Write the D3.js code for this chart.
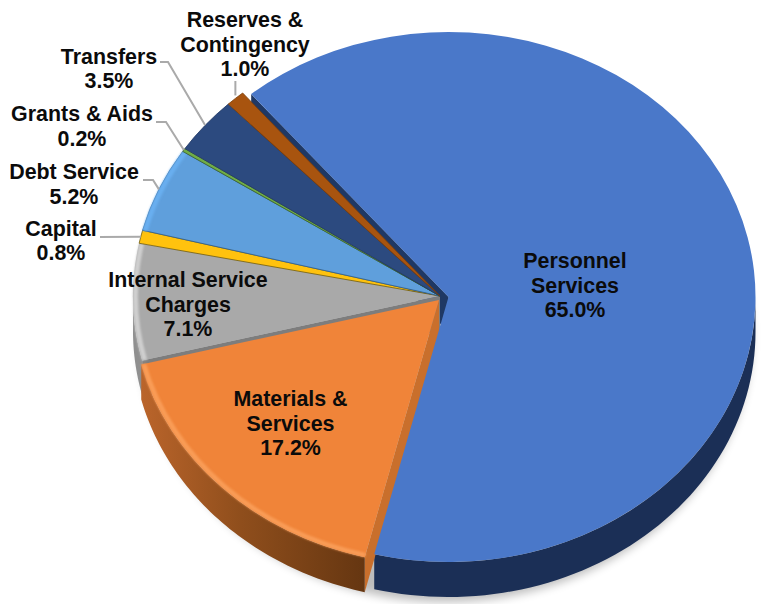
<!DOCTYPE html>
<html>
<head>
<meta charset="utf-8">
<style>
html,body{margin:0;padding:0;background:#fff}
svg{display:block}
text{font-family:"Liberation Sans",Arial,sans-serif;font-weight:700;font-size:21.4px;fill:#0b0b0b;text-anchor:middle}
</style>
</head>
<body>
<svg id="chart" width="767" height="604"></svg>
<script src="https://cdn.jsdelivr.net/npm/d3@7"></script>
<script>
// Budget share by expenditure category, in percent
const categories = ["Personnel Services","Materials & Services","Internal Service Charges","Capital","Debt Service","Grants & Aids","Transfers","Reserves & Contingency"];
const shares = [65.0,17.2,7.1,0.8,5.2,0.2,3.5,1.0];
const labelLines = [["Personnel","Services"],["Materials &","Services"],["Internal Service","Charges"],["Capital"],["Debt Service"],["Grants & Aids"],["Transfers"],["Reserves &","Contingency"]];

// Per-slice paint: top face, cut edge, rim highlight, outer wall
const topColors  = ["#4a78c9","#f08439","#a9a9a9","#ffc20e","#5f9fdc","#70ad47","#2c4a7f","#a8540f"];
const edgeColors = ["#1f3864","#c96f2c","#7d7d7d","#6d5a10","#2f5f8f","#3b5f26","#223a66","#7a3d0a"];
const rimColors  = [null,"#f99c57","#cfcfcf",null,"#69aff0",null,null,null];

// Pie geometry: an ellipse seen from above, with each slice's own pull-out centre
const rx = 307, ry = 265, depth = 35;
const centers = [[448.5,297],[439,300],[440,296],[440,296],[440,296],[440,296],[440,296],[440,296]];

// Label placement: centre x, first baseline, line step; leader elbow when the label sits outside
const labelPlacement = [
  {x:575,y:268,step:24.5},
  {x:290.5,y:406,step:24.5},
  {x:188,y:287,step:24.5},
  {x:61,y:236,step:24,from:100,elbow:100},
  {x:74,y:179,step:25,from:143,elbow:153,ly:180},
  {x:82,y:121,step:25,from:156,elbow:166},
  {x:109,y:64,step:24,from:160,elbow:168,ly:62},
  {x:245,y:27,step:24.5,vertical:true,from:81}
];

const deg = Math.PI/180;
const pie = d3.pie().sort(null).value(d=>d).startAngle(-40*deg).endAngle(320*deg);
const slices = pie(shares);
const face = d3.arc().innerRadius(0).outerRadius(rx);
const rim = d3.arc().innerRadius(rx-5).outerRadius(rx);
const yScale = ry/rx;

const rimPoint = (i,a,dy=0)=>[centers[i][0]+rx*Math.sin(a),centers[i][1]-ry*Math.cos(a)+dy];
const line = d3.line();

// Curved outer wall between two angles
function wallPath(i,a0,a1){
  const steps = d3.range(0,61).map(k=>a0+(a1-a0)*k/60);
  return line(steps.map(a=>rimPoint(i,a)).concat(steps.slice().reverse().map(a=>rimPoint(i,a,depth))))+"Z";
}
// Flat cut face running from the centre out to the rim
function cutPath(i,a){
  const [cx,cy] = centers[i], p = rimPoint(i,a);
  return line([[cx,cy],p,[p[0],p[1]+depth],[cx,cy+depth]])+"Z";
}

const svg = d3.select("#chart");
const defs = svg.append("defs");
defs.append("filter").attr("id","soft").attr("x","-20%").attr("y","-20%").attr("width","140%").attr("height","140%")
  .append("feGaussianBlur").attr("stdDeviation",5);
defs.append("filter").attr("id","rimSoft").append("feGaussianBlur").attr("stdDeviation",1.1);
const orangeWall = defs.append("linearGradient").attr("id","orangeWall").attr("gradientUnits","userSpaceOnUse")
  .attr("x1",139).attr("x2",366).attr("y1",0).attr("y2",0);
orangeWall.append("stop").attr("offset",0).attr("stop-color","#bb652b");
orangeWall.append("stop").attr("offset",0.45).attr("stop-color","#8f4e1c");
orangeWall.append("stop").attr("offset",1).attr("stop-color","#653611");

// Soft ground shadow
svg.append("ellipse")
  .attr("cx",centers[0][0]-3).attr("cy",centers[0][1]+depth+5)
  .attr("rx",rx-1).attr("ry",ry)
  .attr("fill","#000").attr("opacity",0.26).attr("filter","url(#soft)");

// Walls, back to front
const walls = svg.append("g");
walls.append("path").attr("d",cutPath(0,slices[0].startAngle)).attr("fill",edgeColors[0]);
walls.append("path").attr("d",wallPath(0,90*deg,slices[0].endAngle)).attr("fill","#1b2f56");
walls.append("path").attr("d",wallPath(2,slices[2].startAngle,270*deg)).attr("fill","#8f8f8f");
walls.append("path").attr("d",cutPath(2,slices[2].startAngle)).attr("fill",edgeColors[2]);
walls.append("path").attr("d",cutPath(1,slices[1].startAngle)).attr("fill",edgeColors[1]);
walls.append("path").attr("d",wallPath(1,slices[1].startAngle,slices[1].endAngle)).attr("fill","url(#orangeWall)");

// Top faces: blue goes last so it overlaps the neighbouring cut face
const drawOrder = [2,3,4,5,6,7,1,0];
const tops = svg.append("g");
drawOrder.forEach(i=>{
  const g = tops.append("g")
    .attr("transform",`translate(${centers[i][0]},${centers[i][1]}) scale(1,${yScale})`);
  g.append("path").attr("d",face(slices[i])).attr("fill",topColors[i])
    .attr("stroke",i<3?"none":edgeColors[i]).attr("stroke-width",0.8)
    .attr("vector-effect","non-scaling-stroke");
  if(rimColors[i]) g.append("path").attr("d",rim(slices[i])).attr("fill",rimColors[i]).attr("filter","url(#rimSoft)");
});

// Leader lines from outside labels to the rim of their slice
const leaders = svg.append("g").attr("fill","none").attr("stroke","#aaaaaa").attr("stroke-width",2);
labelPlacement.forEach((p,i)=>{
  if(p.from===undefined) return;
  const mid = (slices[i].startAngle+slices[i].endAngle)/2;
  const end = rimPoint(i,mid);
  const pts = p.vertical
    ? [[end[0],p.from],[end[0],end[1]-3]]
    : [[p.from,p.ly??(p.y+1)],[p.elbow,p.ly??(p.y+1)],end];
  leaders.append("path").attr("d",line(pts));
});

// Labels: name lines followed by the share
const labels = svg.append("g");
labelPlacement.forEach((p,i)=>{
  const rows = labelLines[i].concat(shares[i].toFixed(1)+"%");
  labels.append("text").selectAll("tspan").data(rows).join("tspan")
    .attr("x",p.x).attr("y",(d,k)=>p.y+k*p.step).text(d=>d);
});
</script>
</body>
</html>
